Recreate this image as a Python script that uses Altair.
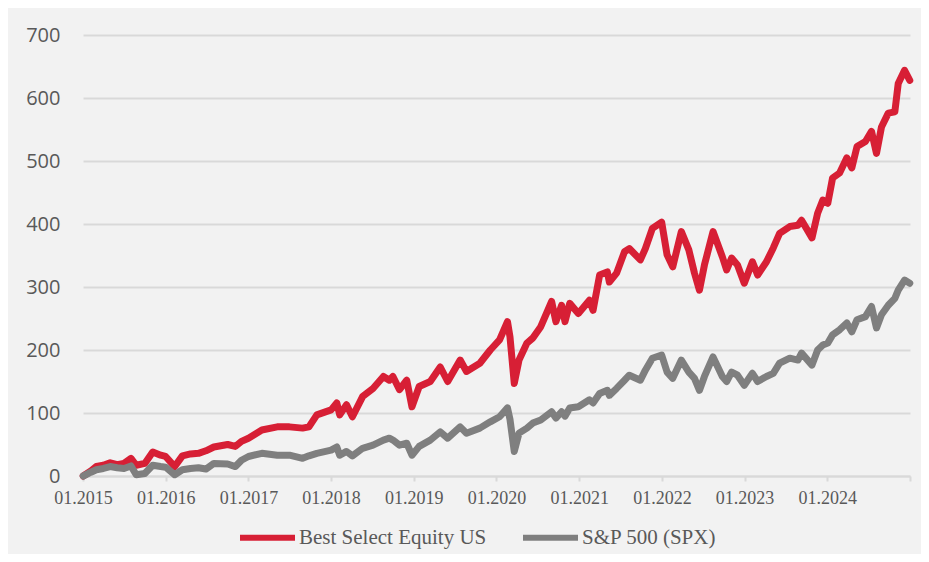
import altair as alt
import pandas as pd

dates = [
    "2015-01-02", "2015-02-05", "2015-03-01", "2015-04-01", "2015-05-01", "2015-06-01",
    "2015-07-01", "2015-08-01", "2015-08-24", "2015-10-01", "2015-11-05", "2015-12-10",
    "2016-01-01", "2016-02-10", "2016-03-15", "2016-04-20", "2016-05-25", "2016-06-27",
    "2016-08-01", "2016-10-01", "2016-11-04", "2016-12-01",
    "2017-01-01", "2017-03-01", "2017-05-08", "2017-07-01", "2017-08-28", "2017-09-25",
    "2017-10-30", "2018-01-01", "2018-01-26", "2018-02-08", "2018-03-10", "2018-04-05",
    "2018-05-20", "2018-07-05", "2018-08-20", "2018-09-15", "2018-10-01", "2018-10-30",
    "2018-12-01", "2018-12-24", "2019-01-25", "2019-03-15", "2019-04-28", "2019-05-31",
    "2019-07-25", "2019-08-22", "2019-10-20", "2019-12-05", "2020-01-15", "2020-02-19",
    "2020-03-01", "2020-03-20", "2020-04-10", "2020-05-15", "2020-06-10", "2020-07-15",
    "2020-09-01", "2020-09-20", "2020-10-15", "2020-10-30", "2020-11-20", "2020-12-28",
    "2021-02-15", "2021-03-03", "2021-04-01", "2021-05-05", "2021-05-14", "2021-06-15",
    "2021-07-20", "2021-08-10", "2021-09-28", "2021-10-20", "2021-11-20", "2021-12-31",
    "2022-01-24", "2022-02-18", "2022-03-28", "2022-04-30", "2022-05-25", "2022-06-16",
    "2022-07-08", "2022-08-15", "2022-09-25", "2022-10-14", "2022-11-05", "2022-12-01",
    "2022-12-31", "2023-02-05", "2023-02-28", "2023-04-08", "2023-05-08", "2023-06-05",
    "2023-07-20", "2023-08-25", "2023-09-10", "2023-10-26", "2023-11-20", "2023-12-13",
    "2024-01-04", "2024-01-25", "2024-02-25", "2024-03-28", "2024-04-19", "2024-05-12",
    "2024-06-18", "2024-07-15", "2024-08-06", "2024-08-28", "2024-09-27", "2024-10-26",
    "2024-11-10", "2024-12-08", "2024-12-31",
]

best_select = [
    0, 8, 15, 17, 21, 18,
    20, 28, 17, 20, 38, 33,
    31, 15, 32, 35, 36, 40,
    46, 50, 47, 55,
    60, 73, 78, 78, 76, 78,
    97, 105, 116, 97, 113, 94,
    126, 139, 158, 152, 158, 137,
    152, 110, 142, 150, 173, 150,
    184, 166, 179, 200, 216, 245,
    221, 147, 184, 211, 219, 237,
    277, 245, 271, 245, 274, 258,
    279, 263, 319, 324, 308, 322,
    356, 361, 343, 361, 393, 403,
    351, 332, 388, 359, 322, 295,
    335, 388, 348, 327, 346, 335,
    306, 340, 319, 340, 362, 385,
    396, 398, 406, 378, 417, 438,
    433, 473, 481, 505, 489, 523,
    531, 547, 512, 554, 576, 578,
    623, 644, 628,
]

sp500 = [
    0, 6, 10, 12, 15, 13,
    12, 16, 2, 4, 17, 15,
    14, 2, 10, 12, 13, 11,
    20, 19, 15, 25,
    31, 36, 33, 33, 28, 32,
    36, 41, 46, 33, 39, 32,
    44, 49, 57, 60, 57, 49,
    52, 33, 47, 57, 70, 60,
    78, 68, 76, 86, 94, 108,
    90, 39, 68, 76, 84, 89,
    102, 92, 102, 95, 108, 110,
    121, 116, 131, 136, 128, 139,
    152, 160, 152, 168, 187, 192,
    165, 155, 184, 165, 155, 136,
    158, 189, 158, 150, 165, 160,
    144, 163, 150, 158, 163, 179,
    187, 184, 195, 176, 200, 208,
    211, 224, 232, 243, 229, 248,
    253, 269, 235, 256, 271, 282,
    295, 311, 306,
]

series_names = ["Best Select Equity US", "S&P 500 (SPX)"]
series_colors = ["#d71f35", "#7f7f7f"]
y_ticks = [0, 100, 200, 300, 400, 500, 600, 700]
x_tick_years = list(range(2015, 2026))

df = pd.concat([
    pd.DataFrame({"date": dates, "value": best_select, "series": series_names[0]}),
    pd.DataFrame({"date": dates, "value": sp500, "series": series_names[1]}),
])

x_values = [alt.DateTime(year=y, month=1, date=1, utc=True) for y in x_tick_years]

chart = alt.Chart(df).mark_line(
    strokeWidth=7, strokeCap="round", strokeJoin="round"
).encode(
    x=alt.X(
        "date:T",
        title=None,
        scale=alt.Scale(
            type="utc",
            domain=[alt.DateTime(year=2015, month=1, date=1, utc=True),
                    alt.DateTime(year=2025, month=1, date=1, utc=True)],
            nice=False,
        ),
        axis=alt.Axis(
            values=x_values,
            labelExpr="utcyear(datum.value) == 2025 ? '' : utcFormat(datum.value, '%m.%Y')",
            grid=False,
            domain=True,
            domainColor="#d9d9d9",
            domainWidth=2,
            ticks=True,
            tickColor="#d9d9d9",
            tickWidth=2,
            tickSize=5,
            labelFont="Liberation Serif",
            labelFontSize=18,
            labelColor="#595959",
            labelPadding=8,
            labelFlush=False,
            labelOverlap=False,
        ),
    ),
    y=alt.Y(
        "value:Q",
        title=None,
        scale=alt.Scale(domain=[0, 700], nice=False),
        axis=alt.Axis(
            values=y_ticks,
            grid=True,
            gridColor="#d9d9d9",
            gridWidth=2,
            domain=False,
            ticks=False,
            tickSize=0,
            labelFont="Open Sans",
            labelFontSize=20,
            labelColor="#595959",
            labelPadding=23,
        ),
    ),
    color=alt.Color(
        "series:N",
        scale=alt.Scale(domain=series_names, range=series_colors),
        legend=alt.Legend(
            title=None,
            orient="none",
            direction="horizontal",
            legendX=154,
            legendY=472,
            symbolType="stroke",
            symbolSize=3025,
            symbolStrokeWidth=6,
            labelFont="Liberation Serif",
            labelFontSize=21,
            labelColor="#595959",
            labelOffset=1,
            labelLimit=400,
            columnPadding=24,
            padding=0,
        ),
    ),
).properties(
    width=827,
    height=441,
    background="#f2f2f2",
    padding={"left": 75, "top": 27, "right": 11, "bottom": 78},
    autosize=alt.AutoSizeParams(type="none"),
).configure_view(strokeWidth=0)

chart.save("out.html", embed_options={"renderer": "svg", "actions": False})
